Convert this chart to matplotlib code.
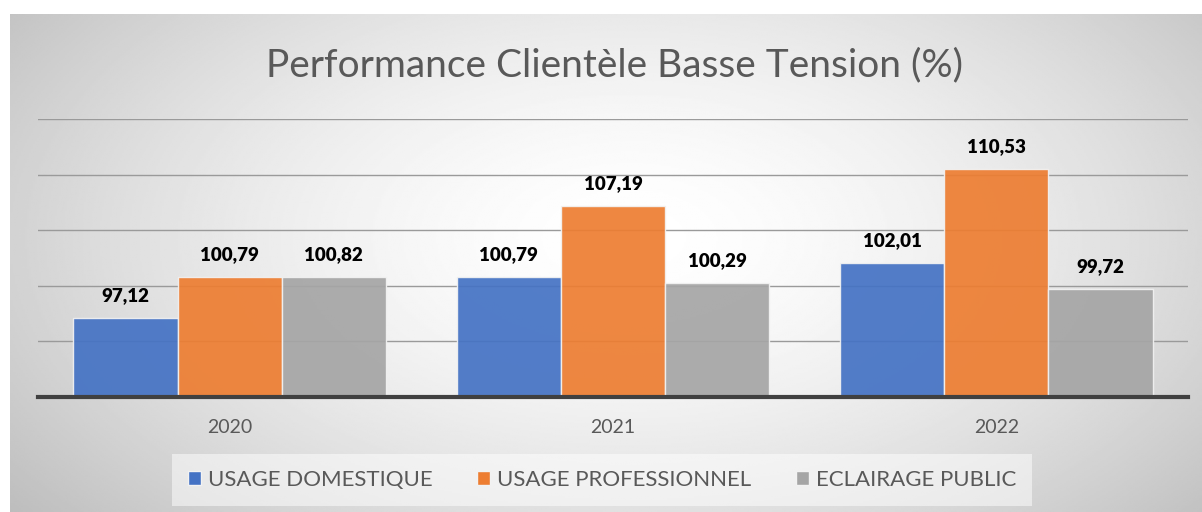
import numpy as np
import matplotlib.pyplot as plt
from matplotlib.patches import Patch

annees = ['2020', '2021', '2022']
domestique = [97.12, 100.79, 102.01]
professionnel = [100.79, 107.19, 110.53]
eclairage = [100.82, 100.29, 99.72]
noms = ['USAGE DOMESTIQUE', 'USAGE PROFESSIONNEL', 'ECLAIRAGE PUBLIC']
couleurs = ['#4472C4', '#ED7D31', '#A5A5A5']
grille = [95, 100, 105, 110, 115]

plt.rcParams['font.family'] = ['Lato', 'DejaVu Sans']

fig = plt.figure(figsize=(12.02, 5.12), dpi=100)

# fond degrade gris (clair au centre)
bg = fig.add_axes([10/1202, 0, 1 - 10/1202, 498/512])
bg.axis('off')
yy, xx = np.mgrid[0:1:300j, 0:1:600j]
r = np.sqrt(((xx - 0.52)/0.6)**2 + ((yy - 0.45)/0.8)**2)
fond = 1 - 0.22*np.clip(r, 0, 1.25)**1.6
bg.imshow(fond, cmap='gray', vmin=0, vmax=1, aspect='auto', extent=[0, 1, 0, 1])

ax = fig.add_axes([38/1202, 115/512, 1150/1202, 278/512])
ax.patch.set_alpha(0)

x = np.arange(len(annees))
w = 0.272
for k, (vals, nom, col) in enumerate(zip([domestique, professionnel, eclairage], noms, couleurs)):
    pos = x + (k - 1)*w
    ax.bar(pos, np.array(vals) - 90, bottom=90, width=w, color=col, alpha=0.92,
           edgecolor='#f2f2f2', linewidth=1, zorder=3)
    for xi, v in zip(pos, vals):
        ax.annotate(f'{v:.2f}'.replace('.', ','), (xi, v), xytext=(0, 10),
                    textcoords='offset points', ha='center', va='bottom',
                    fontsize=13.5, fontweight='heavy', color='black', zorder=5)

ax.set_xlim(-0.5, 2.5)
ax.set_ylim(90, 115)
ax.set_yticks(grille)
ax.yaxis.grid(True, color='#9a9a9a', lw=1, zorder=1)
ax.tick_params(axis='y', left=False, labelleft=False)
ax.set_xticks(x)
ax.set_xticklabels(annees, fontsize=14, color='#595959')
ax.tick_params(axis='x', length=0, pad=16)
for s in ['top', 'right', 'left']:
    ax.spines[s].set_visible(False)
ax.spines['bottom'].set_color('#404040')
ax.spines['bottom'].set_linewidth(3)
ax.spines['bottom'].set_zorder(4)

fig.text(614/1202, 1 - 65/512, 'Performance Clientèle Basse Tension (%)',
         ha='center', va='center', fontsize=28, color='#595959')

poignees = [Patch(facecolor=c, edgecolor='#f2f2f2', label=n) for c, n in zip(couleurs, noms)]
leg = fig.legend(handles=poignees, loc='center', bbox_to_anchor=(602/1202, 1 - 480/512),
                 ncol=3, frameon=True, facecolor='white', framealpha=0.5, edgecolor='none',
                 fancybox=False, fontsize=16, handlelength=0.6, handleheight=0.6,
                 columnspacing=2.0, handletextpad=0.3, borderpad=0.7, borderaxespad=0)
for t in leg.get_texts():
    t.set_color('#595959')

fig.savefig('out.png', dpi=100)
